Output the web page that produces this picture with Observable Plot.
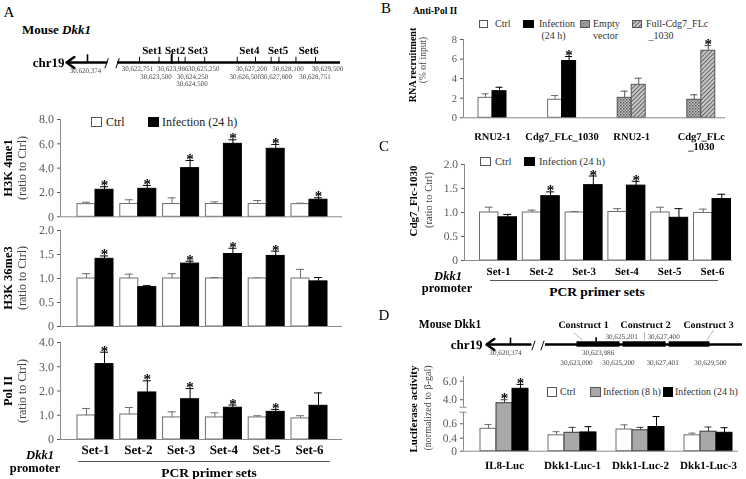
<!DOCTYPE html>
<html><head><meta charset="utf-8">
<script src="https://cdn.jsdelivr.net/npm/d3@7"></script>
<script src="https://cdn.jsdelivr.net/npm/@observablehq/plot@0.6"></script>
<style>
html,body{margin:0;padding:0;background:#fff;}
#root{position:relative;width:746px;height:479px;overflow:hidden;font-family:"Liberation Serif","Times New Roman",serif;color:#000;background:#fff;-webkit-font-smoothing:antialiased;}
#root svg{will-change:transform;}
#root svg text{text-rendering:geometricPrecision;}
</style></head><body><div id="root"></div>
<script>
// ================= DATA =================
const setLabels = ["Set-1","Set-2","Set-3","Set-4","Set-5","Set-6"];

// Panel A – H3K4me1 (ratio to Ctrl)
const h3k4Ctrl    = [1.04, 1.05, 1.05, 1.05, 1.05, 1.04];
const h3k4CtrlTop = [1.20, 1.40, 1.56, 1.23, 1.34, 1.12];
const h3k4Inf     = [2.22, 2.30, 4.00, 6.00, 5.59, 1.40];
const h3k4InfTop  = [2.47, 2.58, 4.63, 6.33, 5.95, 1.56];
const h3k4Star    = [1, 1, 1, 1, 1, 1];

// Panel A – H3K36me3
const h3k36Ctrl    = [1.00, 1.00, 1.00, 1.00, 1.00, 1.00];
const h3k36CtrlTop = [1.10, 1.09, 1.10, 1.02, 1.01, 1.19];
const h3k36Inf     = [1.41, 0.82, 1.31, 1.51, 1.47, 0.94];
const h3k36InfTop  = [1.47, 0.85, 1.36, 1.63, 1.57, 1.02];
const h3k36Star    = [1, 0, 1, 1, 1, 0];

// Panel A – Pol II
const polCtrl    = [0.99, 1.03, 0.91, 0.91, 0.91, 0.87];
const polCtrlTop = [1.28, 1.32, 1.14, 1.10, 0.98, 0.98];
const polInf     = [3.11, 1.94, 1.66, 1.31, 1.14, 1.39];
const polInfTop  = [3.60, 2.42, 2.10, 1.42, 1.24, 1.92];
const polStar    = [1, 1, 1, 1, 1, 0];

// Panel B – Anti-Pol II, RNA recruitment (% of input)
const bGroups       = ["RNU2-1", "Cdg7_FLc_1030", "RNU2-1", "Cdg7_FLc\n_1030"];
const bFirstSeries  = ["Ctrl", "Ctrl", "Empty vector", "Empty vector"];
const bSecondSeries = ["Infection (24 h)", "Infection (24 h)", "Full-Cdg7_FLc_1030", "Full-Cdg7_FLc_1030"];
const bFirst        = [2.04, 1.84, 2.04, 1.84];
const bFirstTop     = [2.45, 2.28, 2.72, 2.35];
const bSecond       = [2.72, 5.80, 3.37, 6.85];
const bSecondTop    = [3.12, 6.26, 4.04, 7.38];
const bSecondStar   = [0, 1, 0, 1];

// Panel C – Cdg7_Flc-1030 (ratio to Ctrl)
const cCtrl    = [1.00, 1.00, 1.00, 1.01, 1.00, 0.99];
const cCtrlTop = [1.11, 1.05, 1.02, 1.08, 1.11, 1.07];
const cInf     = [0.90, 1.34, 1.57, 1.56, 0.89, 1.28];
const cInfTop  = [0.96, 1.43, 1.76, 1.65, 1.08, 1.38];
const cStar    = [0, 1, 1, 1, 0, 0];

// Panel D – Luciferase activity
const dGroups    = ["IL8-Luc", "Dkk1-Luc-1", "Dkk1-Luc-2", "Dkk1-Luc-3"];
const dCtrl      = [0.53, 0.44, 0.52, 0.44];
const dCtrlTop   = [0.59, 0.49, 0.585, 0.47];
const dInf8      = [3.63, 0.475, 0.51, 0.49];
const dInf8Top   = [4.00, 0.55, 0.55, 0.555];
const dInf24     = [5.18, 0.48, 0.555, 0.475];
const dInf24Top  = [5.65, 0.56, 0.70, 0.545];
const dInf8Star  = [1, 0, 0, 0];
const dInf24Star = [1, 0, 0, 0];
const dAxisTicks = [0, 0.4, 0.6, 4, 6];

// Gene map A (mouse chr19, Dkk1)
const aLeftMark = 30620374;
const aCoords   = [30622751, 30623500, 30623986, 30624250, 30624500, 30625250, 30626500, 30627200, 30627800, 30628100, 30628751, 30629500];
const aCoordRow = [1, 2, 1, 2, 3, 1, 2, 1, 2, 1, 2, 1];
const aTSS      = 30623986;
const aSetNames = ["Set1", "Set2", "Set3", "Set4", "Set5", "Set6"];
const aSetSpans = [[30622751, 30623500], [30623500, 30624500], [30624500, 30625250], [30626500, 30627200], [30627800, 30628100], [30628751, 30629500]];

// Gene map D
const dLeftMark      = 30620374;
const dTSS           = 30623986;
const dConstructs    = [[30623000, 30625200], [30625201, 30627400], [30627401, 30629500]];
const dConstructName = ["Construct 1", "Construct 2", "Construct 3"];
const dUpperCoords   = [30625201, 30627400];
const dLowerCoords   = [30623000, 30625200, 30627401, 30629500];

// ================= STYLE / LAYOUT =================
const STY = {
  "Ctrl":               {fill: "#ffffff", stroke: "#6e6e6e", err: "#6e6e6e"},
  "Infection (24 h)":   {fill: "#000000", stroke: "#000000", err: "#000000"},
  "Infection (8 h)":    {fill: "#a8a8a8", stroke: "#3a3a3a", err: "#3a3a3a"},
  "Empty vector":       {fill: "url(#patEmpty)", stroke: "#555", err: "#555"},
  "Full-Cdg7_FLc_1030": {fill: "url(#patFull)", stroke: "#555", err: "#555"}
};
const NS = "http://www.w3.org/2000/svg";
const root = document.getElementById("root");
const FONT = '"Liberation Serif","Times New Roman",serif';
const AX = "#8a8a8a";
const fmtComma = d3.format(",");

const defsSvg = document.createElementNS(NS, "svg");
defsSvg.setAttribute("width", 0); defsSvg.setAttribute("height", 0);
defsSvg.style.position = "absolute";
defsSvg.innerHTML = `<defs>
<pattern id="patEmpty" width="3" height="3" patternUnits="userSpaceOnUse"><rect width="3" height="3" fill="#c4c4c4"/><rect width="1.5" height="1.5" fill="#555"/><rect x="1.5" y="1.5" width="1.5" height="1.5" fill="#7a7a7a"/></pattern>
<pattern id="patFull" width="3" height="3" patternUnits="userSpaceOnUse" patternTransform="rotate(45)"><rect width="3" height="3" fill="#d2d2d2"/><rect width="1.2" height="3" fill="#666"/></pattern>
</defs>`;
root.appendChild(defsSvg);

function txt(html, x, y, o = {}) {
  const d = document.createElement("div");
  d.innerHTML = html;
  const s = d.style;
  s.position = "absolute"; s.whiteSpace = "nowrap"; s.left = x + "px"; s.top = y + "px";
  s.fontSize = (o.size || 12) + "px"; s.fontWeight = o.weight || "normal";
  s.fontStyle = o.italic ? "italic" : "normal"; s.color = o.color || "#000";
  s.lineHeight = o.lh ? o.lh + "px" : "1"; s.textAlign = o.align || "left";
  const tx = o.anchor === "start" ? "0" : o.anchor === "end" ? "-100%" : "-50%";
  s.transform = `translate(${tx},-50%)` + (o.rotate ? ` rotate(${o.rotate}deg)` : "");
  root.appendChild(d);
  return d;
}
function hline(x1, x2, y, color) {
  const d = document.createElement("div");
  Object.assign(d.style, {position: "absolute", left: x1 + "px", top: y + "px", width: (x2 - x1) + "px", height: "0", borderTop: "1px solid " + color});
  root.appendChild(d);
}
function swatch(x, y, w, h, key) {
  const s = STY[key];
  const svg = document.createElementNS(NS, "svg");
  svg.setAttribute("width", w + 1); svg.setAttribute("height", h + 1);
  Object.assign(svg.style, {position: "absolute", left: x + "px", top: y + "px", overflow: "visible"});
  const r = document.createElementNS(NS, "rect");
  r.setAttribute("x", 0.5); r.setAttribute("y", 0.5); r.setAttribute("width", w); r.setAttribute("height", h);
  r.setAttribute("fill", s.fill); r.setAttribute("stroke", s.stroke === "#000000" ? "#000" : "#555");
  svg.appendChild(r); root.appendChild(svg);
}
function placeSvg(svg, left, top) {
  svg.style.position = "absolute"; svg.style.left = left + "px"; svg.style.top = top + "px";
  svg.style.overflow = "visible";
  root.appendChild(svg);
}

function makeRows(groupsCount, slots) {
  const rows = [];
  for (let i = 0; i < groupsCount; i++) {
    slots.forEach((sl, k) => {
      rows.push({i, k, series: Array.isArray(sl.series) ? sl.series[i] : sl.series,
        v: sl.v[i], top: sl.top[i], star: sl.star ? sl.star[i] : 0});
    });
  }
  return rows;
}

function barPanel(c) {
  const ym = c.yMap || (v => v);
  const bw = c.barPx / c.step, ch = c.capPx / c.step;
  const xd = [(c.axisX0 - c.c0) / c.step, (c.axisX1 - c.c0) / c.step];
  const n = c.nSlots;
  c.rows.forEach(r => {
    r.x1 = r.i + (r.k - n / 2) * bw; r.x2 = r.x1 + bw; r.xc = r.x1 + bw / 2;
    r.zero = ym(0); r.c1 = r.xc - ch; r.c2 = r.xc + ch; r.yv = ym(r.v); r.yt = ym(r.top);
  });
  const yMax = c.yDomain[c.yDomain.length - 1];
  const marks = [];
  const names = [...new Set(c.rows.map(r => r.series))];
  for (const s of names) {
    const rs = c.rows.filter(r => r.series === s), st = STY[s];
    marks.push(Plot.ruleX(rs, {x: "xc", y1: "yv", y2: "yt", stroke: st.err, strokeWidth: 1}));
    marks.push(Plot.ruleY(rs, {y: "yt", x1: "c1", x2: "c2", stroke: st.err, strokeWidth: 1}));
    marks.push(Plot.rect(rs, {x1: "x1", x2: "x2", y1: "zero", y2: "yv", fill: st.fill, stroke: st.stroke, strokeWidth: 1}));
  }
  const segs = (c.ySegments || [[0, yMax]]).map(s => ({a: ym(s[0]), b: ym(s[1]), x: xd[0]}));
  marks.push(Plot.ruleX(segs, {x: "x", y1: "a", y2: "b", stroke: AX, strokeWidth: 1}));
  if (c.yBreaks) {
    marks.push(Plot.ruleY(c.yBreaks.map(ym), {y: d => d, x1: () => xd[0] - 3.5 / c.step, x2: () => xd[0] + 3.5 / c.step, stroke: AX, strokeWidth: 1}));
  }
  marks.push(Plot.ruleY([ym(0)], {stroke: AX, strokeWidth: 1}));
  marks.push(Plot.text(c.rows.filter(r => r.star), {x: "xc", y: "yt", text: () => "*", fontSize: 15, fontWeight: "bold", fill: "#000", lineAnchor: "bottom", dy: 3.5}));
  if (c.labels) {
    marks.push(Plot.text(c.labels.map((t, i) => ({t, i, zero: ym(0)})), {x: "i", y: "zero", text: "t", dy: c.labelDy,
      lineAnchor: c.labelLineAnchor || "middle", lineHeight: 0.95, fontSize: c.labelSize, fontWeight: "bold", fill: "#000"}));
  }
  const tickVals = c.yTicks.map(ym);
  const yOpt = {domain: [ym(c.yDomain[0]), ym(yMax)], ticks: tickVals,
    tickFormat: d => { const t = c.yTicks.find(t => Math.abs(ym(t) - d) < 1e-6); return c.yFmt(t === undefined ? d : t); },
    tickSize: 3, tickPadding: 3.5, label: null};
  const svg = Plot.plot({
    width: c.width, height: c.height,
    marginLeft: c.axisX0 - c.left, marginRight: c.left + c.width - c.axisX1,
    marginTop: c.yTopPx - c.top, marginBottom: c.top + c.height - c.y0px,
    style: {fontFamily: FONT, fontSize: c.fontSize + "px", color: "#5a5a5a", background: "transparent", overflow: "visible"},
    x: {domain: xd, axis: null},
    y: yOpt,
    marks
  });
  placeSvg(svg, c.left, c.top);
}

const fmt1 = d => d === 0 ? "0" : d.toFixed(1);

// ================= PANEL A =================
txt("A", 9, 12, {size: 15});
txt("Mouse <i>Dkk1</i>", 22, 29, {size: 13, weight: "bold", anchor: "start"});

{
  const pxbp = 223 / (30630460 - 30621907);
  const nudge = {30622751: -2, 30623500: -3, 30623986: 1, 30624250: 14, 30624500: 7, 30625250: -1,
                 30626500: 8, 30627200: -4, 30627800: 5, 30628100: 9, 30628751: 19, 30629500: 12};
  const leftSeg = {a: 30621103, b: 30619569, r: 0};
  const rightSeg = {a: 30621907, b: 30630460, r: 0};
  const breaks = [30621103, 30621907];
  const svg = Plot.plot({
    width: 370, height: 50, margin: 0,
    style: {fontFamily: FONT, background: "transparent", overflow: "visible", color: "#000"},
    x: {type: "linear", domain: [30619569, 30621103, 30621907, 30630460], range: [66, 106, 117, 340], axis: null},
    y: {domain: [-3, 4], range: [1, 50], axis: null},
    marks: [
      Plot.arrow([leftSeg], {x1: "a", y1: "r", x2: "b", y2: "r", stroke: "#000", strokeWidth: 2.4, headLength: 6, headAngle: 70}),
      Plot.ruleY([rightSeg], {x1: "a", x2: "b", y: "r", stroke: "#000", strokeWidth: 2.4}),
      Plot.ruleX(aCoords.filter(d => d !== aTSS), {x: d => d, y1: () => 0, y2: () => -0.75, stroke: "#000", strokeWidth: 1}),
      Plot.ruleX([aTSS], {x: d => d, y1: () => 0.25, y2: () => -1.2, stroke: "#000", strokeWidth: 2}),
      Plot.ruleX([aLeftMark], {x: d => d, y1: () => 0, y2: () => -1.1, stroke: "#000", strokeWidth: 1.6}),
      Plot.text(breaks, {x: d => d, y: () => 0.1, text: () => "/", fontSize: 15, fontWeight: "bold", fill: "#000"}),
      Plot.text([leftSeg], {x: "b", y: "r", text: () => "chr19", textAnchor: "end", dx: -2, fontSize: 13, fontWeight: "bold", fill: "#000"}),
      Plot.text(aCoords, {x: d => d + nudge[d] / pxbp, y: (d, i) => 0.85 + (aCoordRow[i] - 1) * 1.12, text: d => fmtComma(d), fontSize: 7, fill: "#444"}),
      Plot.text([aLeftMark], {x: d => d - 2 / pxbp, y: () => 1.2, text: d => fmtComma(d), fontSize: 7, fill: "#444"}),
      Plot.text(aSetNames, {x: (d, i) => (aSetSpans[i][0] + aSetSpans[i][1]) / 2 + 3 / pxbp, y: () => -1.75, text: d => d, fontSize: 11, fontWeight: "bold", fill: "#000"})
    ]
  });
  placeSvg(svg, 0, 40);
}

swatch(91, 117, 10, 9, "Ctrl"); txt("Ctrl", 106, 121.5, {size: 12, anchor: "start", color: "#222"});
swatch(148, 117, 10, 9, "Infection (24 h)"); txt("Infection (24 h)", 162, 121.5, {size: 12, anchor: "start", color: "#222"});

const aCommon = {left: 0, width: 370, axisX0: 60, axisX1: 342, c0: 95, step: 42.8, barPx: 18, capPx: 4, nSlots: 2, fontSize: 12};
barPanel({...aCommon, top: 110, height: 112, y0px: 216.3, yTopPx: 119, yDomain: [0, 8], yTicks: [0, 2, 4, 6, 8], yFmt: fmt1,
  rows: makeRows(6, [{series: "Ctrl", v: h3k4Ctrl, top: h3k4CtrlTop}, {series: "Infection (24 h)", v: h3k4Inf, top: h3k4InfTop, star: h3k4Star}])});
barPanel({...aCommon, top: 222, height: 108, y0px: 326, yTopPx: 230, yDomain: [0, 2], yTicks: [0, 0.5, 1, 1.5, 2], yFmt: fmt1,
  rows: makeRows(6, [{series: "Ctrl", v: h3k36Ctrl, top: h3k36CtrlTop}, {series: "Infection (24 h)", v: h3k36Inf, top: h3k36InfTop, star: h3k36Star}])});
barPanel({...aCommon, top: 332, height: 147, y0px: 439, yTopPx: 342, yDomain: [0, 4], yTicks: [0, 1, 2, 3, 4], yFmt: fmt1,
  labels: setLabels, labelDy: 11, labelSize: 13,
  rows: makeRows(6, [{series: "Ctrl", v: polCtrl, top: polCtrlTop}, {series: "Infection (24 h)", v: polInf, top: polInfTop, star: polStar}])});

txt("H3K 4me1", 8, 167.5, {size: 12.5, weight: "bold", rotate: -90});
txt("(ratio to Ctrl)", 22, 167.5, {size: 12, rotate: -90, color: "#444"});
txt("H3K 36me3", 8, 278, {size: 12.5, weight: "bold", rotate: -90});
txt("(ratio to Ctrl)", 22, 278, {size: 12, rotate: -90, color: "#444"});
txt("Pol II", 8, 390.5, {size: 12.5, weight: "bold", rotate: -90});
txt("(ratio to Ctrl)", 22, 390.5, {size: 12, rotate: -90, color: "#444"});
txt("Dkk1", 40, 455, {size: 12.5, weight: "bold", italic: true});
txt("promoter", 35, 468, {size: 12.5, weight: "bold"});
hline(78, 330, 461, "#555");
txt("PCR primer sets", 209, 473, {size: 13.5, weight: "bold"});

// ================= PANEL B =================
txt("B", 386, 8, {size: 15});
txt("Anti-Pol II", 413, 12, {size: 9.5, weight: "bold", anchor: "start"});
swatch(479, 20, 8, 7, "Ctrl"); txt("Ctrl", 495, 23.5, {size: 10, anchor: "start", color: "#333"});
swatch(523, 20, 10, 7, "Infection (24 h)"); txt("Infection<br>&nbsp;(24 h)", 539, 29.5, {size: 10, anchor: "start", lh: 12, color: "#333"});
swatch(580, 20, 9, 7, "Empty vector"); txt("Empty<br>vector", 593, 29.5, {size: 10, anchor: "start", lh: 12, color: "#333"});
swatch(632, 20, 9, 7, "Full-Cdg7_FLc_1030"); txt("Full-Cdg7_FLc<br>&nbsp;_1030", 646, 29.5, {size: 10, anchor: "start", lh: 12, color: "#333"});
barPanel({left: 380, top: 30, width: 366, height: 125, axisX0: 463, axisX1: 725, c0: 492, step: 69.6, barPx: 14, capPx: 3.5, nSlots: 2,
  fontSize: 10.5, y0px: 117.3, yTopPx: 39, yDomain: [0, 8], yTicks: [0, 2, 4, 6, 8], yFmt: d => String(d),
  labels: bGroups, labelDy: 15.5, labelLineAnchor: "top", labelSize: 10.5,
  rows: makeRows(4, [{series: bFirstSeries, v: bFirst, top: bFirstTop}, {series: bSecondSeries, v: bSecond, top: bSecondTop, star: bSecondStar}])});
txt("RNA recruitment", 413, 64.5, {size: 10, weight: "bold", rotate: -90});
txt("(% of input)", 424, 60, {size: 9.5, rotate: -90, color: "#444"});

// ================= PANEL C =================
txt("C", 384, 146, {size: 15});
swatch(480, 157, 10, 8, "Ctrl"); txt("Ctrl", 495, 161.5, {size: 10.5, anchor: "start", color: "#333"});
swatch(524, 157, 10, 8, "Infection (24 h)"); txt("Infection (24 h)", 539, 161.5, {size: 10.5, anchor: "start", color: "#333"});
barPanel({left: 380, top: 150, width: 366, height: 130, axisX0: 464, axisX1: 732, c0: 498, step: 42.8, barPx: 18.5, capPx: 4, nSlots: 2,
  fontSize: 11.5, y0px: 260, yTopPx: 164, yDomain: [0, 2], yTicks: [0, 0.5, 1, 1.5, 2], yFmt: fmt1,
  labels: setLabels, labelDy: 11, labelSize: 11,
  rows: makeRows(6, [{series: "Ctrl", v: cCtrl, top: cCtrlTop}, {series: "Infection (24 h)", v: cInf, top: cInfTop, star: cStar}])});
txt("Cdg7_Flc-1030", 413, 201, {size: 11, weight: "bold", rotate: -90});
txt("(ratio to Ctrl)", 429, 200, {size: 10.5, rotate: -90, color: "#444"});
txt("Dkk1", 448, 275.5, {size: 12.5, weight: "bold", italic: true});
txt("promoter", 447, 288, {size: 12.5, weight: "bold"});
hline(490, 718, 280, "#555");
txt("PCR primer sets", 597, 292, {size: 13.5, weight: "bold"});

// ================= PANEL D =================
txt("D", 384, 315, {size: 15});
txt("Mouse Dkk1", 450, 325, {size: 11.5, weight: "bold"});
{
  const pxbp = 136 / 6500;
  const leftSeg = {a: 30621330, b: 30619227, r: 0};
  const rightSeg = {a: 30621566, b: 30630982, r: 0};
  const breaks = [30621377, 30621519];
  const cNudge = [-15, 1, 19];
  const upNudge = [0, -4];
  const lowNudge = [1, -3, -5, -1];
  const leaders = [
    {x1: dConstructs[0][0] - 2 / pxbp, y1: -1.5, x2: dConstructs[0][0] + 7 / pxbp, y2: -0.55},
    {x1: dConstructs[2][1] + 2 / pxbp, y1: -1.8, x2: dConstructs[2][1] - 5 / pxbp, y2: -0.4}
  ];
  const sep = (dUpperCoords[0] + dUpperCoords[1]) / 2;
  const svg = Plot.plot({
    width: 366, height: 55, margin: 0,
    style: {fontFamily: FONT, background: "transparent", overflow: "visible", color: "#000"},
    x: {type: "linear", domain: [30619227, 30621330, 30621566, 30630982], range: [106, 150, 165, 362], axis: null},
    y: {domain: [-4, 3], range: [-3, 53], axis: null},
    marks: [
      Plot.arrow([leftSeg], {x1: "a", y1: "r", x2: "b", y2: "r", stroke: "#000", strokeWidth: 2.4, headLength: 6, headAngle: 70}),
      Plot.ruleY([rightSeg], {x1: "a", x2: "b", y: "r", stroke: "#000", strokeWidth: 2.4}),
      Plot.rect(dConstructs, {x1: d => d[0], x2: d => d[1], y1: () => -0.34, y2: () => 0.34, fill: "#000", insetLeft: 1.5, insetRight: 1.5}),
      Plot.ruleX([dLeftMark], {x: d => d, y1: () => 0, y2: () => -0.8, stroke: "#000", strokeWidth: 1.6}),
      Plot.ruleX([dTSS], {x: d => d, y1: () => 0, y2: () => -0.85, stroke: "#000", strokeWidth: 1.6}),
      Plot.text(breaks, {x: d => d, y: () => 0.1, text: () => "/", fontSize: 14, fontWeight: "bold", fill: "#000"}),
      Plot.text([leftSeg], {x: "b", y: "r", text: () => "chr19", textAnchor: "end", dx: -4, fontSize: 13, fontWeight: "bold", fill: "#000"}),
      Plot.link(leaders, {x1: "x1", y1: "y1", x2: "x2", y2: "y2", stroke: "#aaa", strokeWidth: 0.8}),
      Plot.ruleX([sep], {x: d => d, y1: () => -1.5, y2: () => -0.3, stroke: "#aaa", strokeWidth: 0.8}),
      Plot.text(dConstructName, {x: (d, i) => (dConstructs[i][0] + dConstructs[i][1]) / 2 + cNudge[i] / pxbp, y: () => -2.5, text: d => d, fontSize: 10, fontWeight: "bold", fill: "#000"}),
      Plot.text(dUpperCoords, {x: (d, i) => d + upNudge[i] / pxbp, y: () => -1, text: d => fmtComma(d), fontSize: 7.2, fill: "#444"}),
      Plot.text([dTSS], {x: d => d + 2 / pxbp, y: () => 1, text: d => fmtComma(d), fontSize: 7.2, fill: "#444"}),
      Plot.text([dLeftMark], {x: d => d - 5 / pxbp, y: () => 1, text: d => fmtComma(d), fontSize: 7.2, fill: "#444"}),
      Plot.text(dLowerCoords, {x: (d, i) => d + lowNudge[i] / pxbp, y: () => 2.3, text: d => fmtComma(d), fontSize: 7.2, fill: "#444"})
    ]
  });
  placeSvg(svg, 380, 315);
}
swatch(547, 387, 9, 9, "Ctrl"); txt("Ctrl", 560, 391.5, {size: 10, anchor: "start", color: "#333"});
swatch(590, 387, 10, 9, "Infection (8 h)"); txt("Infection (8 h)", 603, 391.5, {size: 10, anchor: "start", color: "#333"});
swatch(663, 387, 9, 9, "Infection (24 h)"); txt("Infection (24 h)", 675, 391.5, {size: 10, anchor: "start", color: "#333"});
const dBroken = d3.scaleLinear().domain([0, 0.4, 0.76, 3.2, 6.5]).range([0, 13, 39, 44, 74.7]);
barPanel({left: 380, top: 370, width: 366, height: 109, axisX0: 463, axisX1: 738, c0: 504, step: 68, barPx: 16, capPx: 3.5, nSlots: 3,
  fontSize: 11.5, y0px: 450.7, yTopPx: 376, yDomain: [0, 6.5], yMap: v => dBroken(v), yTicks: dAxisTicks, yFmt: fmt1,
  ySegments: [[0, 0.76], [3.2, 6.5]], yBreaks: [0.76, 3.2],
  labels: dGroups, labelDy: 14, labelSize: 11,
  rows: makeRows(4, [{series: "Ctrl", v: dCtrl, top: dCtrlTop}, {series: "Infection (8 h)", v: dInf8, top: dInf8Top, star: dInf8Star},
                     {series: "Infection (24 h)", v: dInf24, top: dInf24Top, star: dInf24Star}])});
txt("Luciferase activity", 413, 409, {size: 11, weight: "bold", rotate: -90});
txt("(normalized to β-gal)", 428, 408, {size: 10, rotate: -90, color: "#444"});
</script></body></html>
